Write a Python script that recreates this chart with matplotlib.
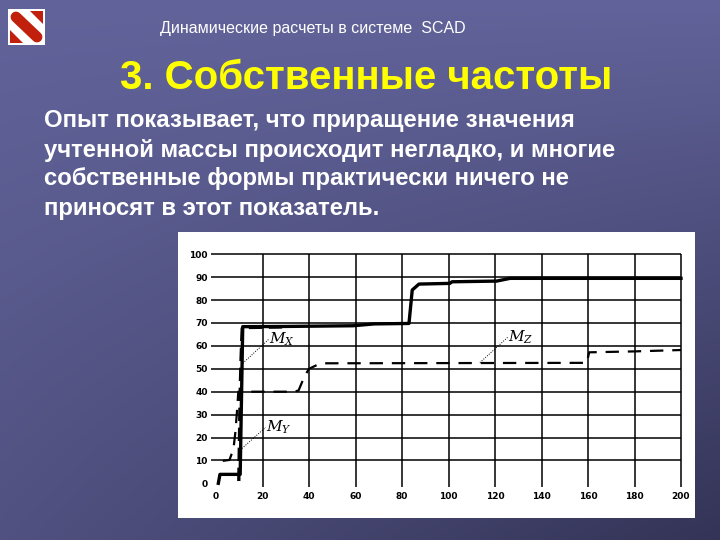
import numpy as np
import matplotlib
matplotlib.use("Agg")
import matplotlib.pyplot as plt
from matplotlib.patches import Rectangle, Polygon

# --- data ---
x_ticks = [0, 20, 40, 60, 80, 100, 120, 140, 160, 180, 200]
y_ticks = [0, 10, 20, 30, 40, 50, 60, 70, 80, 90, 100]

mx_x = [1.0, 1.7, 10.4, 11.5, 30, 59, 68, 83, 84.4, 87.3, 100.6, 101.5, 120.7, 126.5, 200]
mx_y = [0.0, 3.9, 3.9, 68.4, 68.5, 68.8, 69.6, 69.8, 84.4, 87.0, 87.3, 88.0, 88.3, 89.5, 89.5]

my_x = [9.8, 10.1, 10.4, 10.8, 11.3, 30]
my_y = [1.0, 20.0, 40.0, 55.0, 68.0, 68.3]

mz_x = [2.9, 5.8, 7.5, 8.3, 9.0, 9.6, 33.4, 35.5, 38.0, 40.0, 43.5, 46, 159.5, 160.5, 180, 200]
mz_y = [9.8, 10.2, 15.0, 22.0, 31.0, 40.0, 40.0, 40.5, 46.6, 50.0, 51.7, 52.4, 52.6, 57.2, 57.6, 58.2]

labels = ["$M_X$", "$M_Y$", "$M_Z$"]
label_pos = [(22.8, 63.0), (21.4, 24.5), (125.5, 63.8)]
leader_from = [(11.5, 52.4), (9.6, 13.8), (113.5, 52.7)]

header = "Динамические расчеты в системе  SCAD"
title = "3. Собственные частоты"
body = ["Опыт показывает, что приращение значения",
        "учтенной массы происходит негладко, и многие",
        "собственные формы практически ничего не",
        "приносят в этот показатель."]

W, H = 720, 540
fig = plt.figure(figsize=(7.2, 5.4), dpi=100)

# slide background, darker towards the bottom right
bg = fig.add_axes([0, 0, 1, 1])
gy, gx = np.mgrid[0:1:200j, 0:1:200j]
shade = np.clip(0.3 * gy + 0.5 * gy * gx, 0, 1)
c1 = np.array([0x62, 0x63, 0x9a]) / 255
c2 = np.array([0x28, 0x28, 0x46]) / 255
img = c1[None, None, :] * (1 - shade[..., None]) + c2[None, None, :] * shade[..., None]
bg.imshow(img, extent=[0, W, H, 0], aspect="auto")
bg.set_xlim(0, W)
bg.set_ylim(H, 0)
bg.axis("off")

# logo
red = "#c0200c"
bg.add_patch(Rectangle((8, 9), 37, 36, fc="white", ec="none"))
bg.add_patch(Polygon([(30, 11), (43, 11), (43, 24)], closed=True, fc=red, ec="none"))
bg.add_patch(Polygon([(10, 30), (10, 43), (23, 43)], closed=True, fc=red, ec="none"))
bg.plot([16, 37], [17, 37], color=red, lw=7.8, solid_capstyle="round")

fam = ["Liberation Sans", "DejaVu Sans"]
bg.text(160, 28, header, color="white", fontsize=11.5, family=fam, va="center", ha="left")
bg.text(366, 78, title, color="#ffff00", fontsize=29, fontweight="bold", family=fam,
        va="center", ha="center")
for i, line in enumerate(body):
    bg.text(44, 121 + 29 * i, line, color="white", fontsize=17.2, fontweight="bold",
            family=fam, va="center", ha="left")

# white chart panel
bg.add_patch(Rectangle((178, 232), 517, 286, fc="white", ec="none"))

# chart axes
ax = fig.add_axes([216 / W, (H - 483.3) / H, 465 / W, 229 / H])
ax.set_xlim(0, 200)
ax.set_ylim(0, 100)
ax.patch.set_alpha(0)
for s in ax.spines.values():
    s.set_visible(False)
ax.tick_params(length=0, pad=6)
ax.set_xticks(x_ticks)
ax.set_yticks(y_ticks)
ax.set_xticklabels([str(v) for v in x_ticks], fontsize=6.5, fontweight="bold")
ax.set_yticklabels([str(v) for v in y_ticks], fontsize=6.5, fontweight="bold")

ax.hlines([v for v in y_ticks if v > 0], -2, 200, color="black", lw=1.1, clip_on=False)
ax.vlines([v for v in x_ticks if v > 0], -1.5, 100, color="black", lw=1.1, clip_on=False)

ax.plot(mz_x, mz_y, color="black", lw=1.6, dashes=(6, 4), clip_on=False)
ax.plot(my_x, my_y, color="black", lw=2.4, dashes=(4, 2), clip_on=False)
ax.plot(mx_x, mx_y, color="black", lw=2.4, clip_on=False)

for lab, (lx, ly), (fx, fy) in zip(labels, label_pos, leader_from):
    ax.plot([fx, lx], [fy, ly], color="black", lw=0.7, ls=(0, (1, 1.5)))
    ax.text(lx, ly, lab, fontsize=11, family="serif", style="italic", ha="left", va="center",
            math_fontfamily="dejavuserif")

fig.savefig("out.png", dpi=100)
